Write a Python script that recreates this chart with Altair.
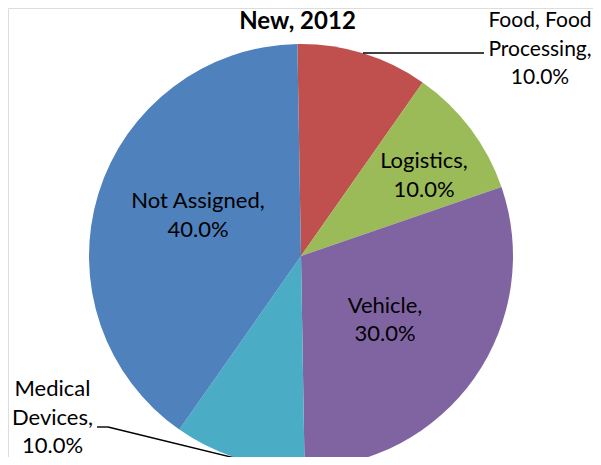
import math
import altair as alt
import pandas as pd

categories = ["Food, Food Processing", "Logistics", "Vehicle", "Medical Devices", "Not Assigned"]
label_text = ["Food, Food\nProcessing,", "Logistics,", "Vehicle,", "Medical\nDevices,", "Not Assigned,"]
shares = [10.0, 10.0, 30.0, 10.0, 40.0]
colors = ["#C0504D", "#9BBB59", "#8064A2", "#4BACC6", "#4F81BD"]
title_text = "New, 2012"

df = pd.DataFrame({
    "cat": categories,
    "lab": label_text,
    "share": shares,
    "idx": list(range(len(categories))),
})

FONT = "Lato"
FS = 22
LH = 28.5
CX, CY = 293, 248
R = 212
rot = -0.017
theta_scale = alt.Scale(domain=[0, 100], range=[rot, rot + 2 * math.pi])

base = alt.Chart(df).transform_window(
    cum="sum(share)", sort=[alt.SortField("idx", order="ascending")]
).transform_calculate(
    start="datum.cum - datum.share",
    mid="datum.cum - datum.share / 2",
    text="datum.lab + '\\n' + format(datum.share, '.1f') + '%'",
)

arcs = base.mark_arc(radius=R, stroke=None).encode(
    x=alt.value(CX), y=alt.value(CY),
    theta=alt.Theta("start:Q", scale=theta_scale),
    theta2="cum:Q",
    color=alt.Color("cat:N", scale=alt.Scale(domain=categories, range=colors), legend=None),
)

# cumulative midpoints (for computing label offsets relative to slice anchors)
_cum = 0.0
mids = {}
for c, s in zip(categories, shares):
    mids[c] = _cum + s / 2
    _cum += s


def label_layer(cat, radius, tx, ty, fs=FS):
    # tx, ty: page position of first line's centre; offset from the slice anchor
    th = rot + 2 * math.pi * mids[cat] / 100
    ax = CX + radius * math.sin(th) + 8
    ay = CY - radius * math.cos(th) + 8
    return base.transform_filter(alt.datum.cat == cat).mark_text(
        radius=radius, dx=tx - ax, dy=ty - ay, font=FONT, fontSize=fs, color="black",
        align="center", baseline="middle", lineBreak="\n", lineHeight=LH,
    ).encode(
        x=alt.value(CX), y=alt.value(CY),
        theta=alt.Theta("mid:Q", scale=theta_scale),
        text="text:N",
    )


labels = [
    label_layer("Not Assigned", 115, 198, 201),
    label_layer("Logistics", 148, 424, 161),
    label_layer("Vehicle", 104, 385, 305.5),
    label_layer("Food, Food Processing", R, 540, 21, fs=21),
    label_layer("Medical Devices", R, 52.5, 389),
]

rules_df = pd.DataFrame({"k": [0]})


def rule(x1, y1, x2, y2):
    return alt.Chart(rules_df).mark_rule(color="black", strokeWidth=1.4).encode(
        x=alt.value(x1), y=alt.value(y1), x2=alt.value(x2), y2=alt.value(y2)
    )


leaders = [
    rule(355, 45, 476, 45),
    rule(89, 419, 100, 419),
    rule(100, 419, 231, 451),
]

title = alt.Chart(rules_df).mark_text(
    text=title_text, font=FONT, fontSize=24, fontWeight="bold", color="black",
    align="center", baseline="alphabetic",
).encode(x=alt.value(289.5), y=alt.value(21))

chart = alt.layer(arcs, *labels, *leaders, title).properties(
    width=585, height=449, autosize="none", padding=0
).configure_view(stroke=None).configure(background="white")

chart.save("out.html", embed_options={"renderer": "svg", "actions": False})
